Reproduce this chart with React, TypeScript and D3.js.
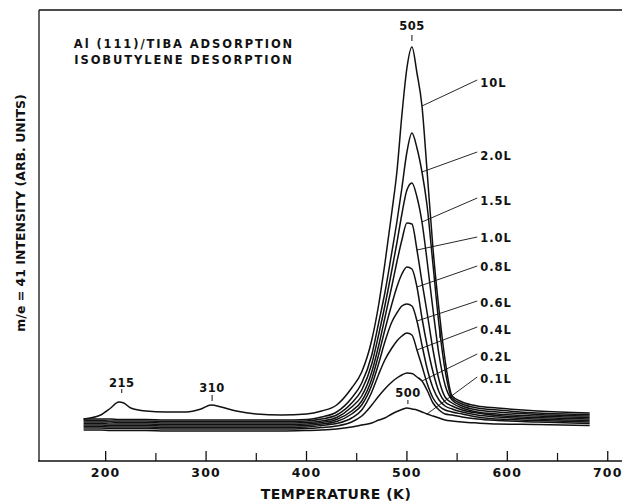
import React from 'react';
import * as d3 from 'd3';

// ---- data ----
const temperatures = [178, 195, 205, 213, 218, 225, 240, 260, 280, 295, 305, 315, 330, 350, 375, 400, 415, 430, 445, 455, 465, 472, 478, 485, 490, 495, 500, 505, 510, 515, 520, 526, 532, 538, 545, 555, 570, 590, 630, 682];

const exposures = ['10L', '2.0L', '1.5L', '1.0L', '0.8L', '0.6L', '0.4L', '0.2L', '0.1L'];

const int10L = [42, 46, 53, 59, 58, 53, 50, 49, 49, 52, 56, 54, 50, 47, 46, 47, 50, 56, 73, 89, 121, 157, 197, 249, 289, 346, 393, 414, 388, 355, 291, 212, 151, 101, 65, 59, 55, 53, 50, 48];
const int2_0L = [42, 42, 42, 41.5, 41.5, 41.5, 41.5, 41, 41, 41, 41, 41, 41, 41, 41, 41.5, 44, 49, 63, 78, 106, 139, 168, 209, 239, 273, 309, 328, 313, 289, 256, 196, 136, 91, 63, 57, 53, 51, 48, 46.5];
const int1_5L = [40.5, 40.5, 40, 40, 40, 40, 40, 39.5, 39.5, 39.5, 39.5, 39.5, 39.5, 39.5, 39.5, 40, 42, 46, 58, 71, 97, 127, 155, 191, 218, 247, 271, 278, 264, 239, 201, 151, 106, 76, 61, 55, 51, 49, 46.5, 45];
const int1_0L = [39, 39, 39, 38.5, 38.5, 38.5, 38.5, 38, 38, 38, 38, 38, 38, 38, 38, 38.5, 40, 43.5, 54, 65, 89, 116, 143, 175, 199, 221, 238, 237, 211, 179, 149, 111, 81, 64, 58, 53, 49, 47, 45, 43.5];
const int0_8L = [37.5, 37.5, 37, 37, 37, 37, 37, 36.5, 36.5, 36.5, 36.5, 36.5, 36.5, 36.5, 36.5, 37, 38.5, 41.5, 50, 60, 82, 107, 131, 157, 174, 187, 194, 192, 174, 143, 116, 89, 69, 59, 55, 51, 48, 45.5, 43.5, 42];
const int0_6L = [36, 36, 35.5, 35.5, 35.5, 35.5, 35.5, 35, 35, 35, 35, 35, 35, 35, 35, 35.5, 37, 39.5, 47, 56, 76, 98, 119, 139, 148, 155, 157, 155, 140, 116, 93, 73, 61, 55, 52, 49, 46, 44, 42, 40.5];
const int0_4L = [34.5, 34.5, 34, 34, 34, 34, 34, 33.5, 33.5, 33.5, 33.5, 33.5, 33.5, 33.5, 33.5, 34, 35.5, 37.5, 43, 51, 69, 87, 101, 113, 120, 125, 128, 126, 111, 95, 78, 63, 55, 51, 49, 47, 44, 42, 40.5, 39];
const int0_2L = [33, 33, 32.5, 32.5, 32.5, 32.5, 32.5, 32, 32, 32, 32, 32, 32, 32, 32, 32.5, 33.5, 35, 39, 45, 56, 65, 72, 79, 83, 86, 88, 87.5, 84, 80, 71, 58, 51, 47, 46, 44, 42, 40.5, 39, 37.5];
const int0_1L = [31, 31, 30.5, 30.5, 30.5, 30.5, 30.5, 30, 30, 30, 30, 30, 30, 30, 30, 30.5, 31, 32, 34, 36, 38, 41, 43, 47, 49.5, 51.5, 53, 52, 51, 49, 47, 45, 43, 41, 40, 39, 38, 37, 36.5, 35.5];

const seriesValues = [int10L, int2_0L, int1_5L, int1_0L, int0_8L, int0_6L, int0_4L, int0_2L, int0_1L];

const majorTicks = [200, 300, 400, 500, 600, 700];
const minorTicks = [250, 350, 450, 550, 650];

const peakTemps = ['215', '310', '505', '500'];

// ---- layout (annotation placement) ----
const leaderAnchorT = [515, 515, 515, 510, 510, 510, 510, 515, 520];
const leaderEndI = [381, 309, 263, 224, 195, 160, 134, 107, 84];
const labelBaseI = [374, 301, 256, 219, 190, 154, 127, 100, 78];
const LEADER_END_T = 570;
const LABEL_T = 573;
const peakLabelT = [216, 306, 505, 501];
const peakLabelI = [74, 69, 431, 64];
const peakTickI = [[72, 68], [66, 60], [426, 420], [61, 57]];

const W = 622;
const H = 502;
const FONT = '"DejaVu Sans", Arial, sans-serif';

export default function App() {
  const x = d3.scaleLinear().domain([133.6, 714.2]).range([39, 622]);
  const y = d3.scaleLinear().domain([0, 451]).range([461, 10]);

  const line = d3
    .line<number>()
    .x((_, i) => x(temperatures[i]))
    .y((d) => y(d))
    .curve(d3.curveMonotoneX);

  const axisY = y(0);

  return (
    <svg
      width={W}
      height={H}
      viewBox={`0 0 ${W} ${H}`}
      style={{ position: 'absolute', left: 0, top: 0, background: '#fff' }}
    >
      <rect x={0} y={0} width={W} height={H} fill="#fff" />
      {/* frame */}
      <line x1={x.range()[0]} x2={W} y1={y(451)} y2={y(451)} stroke="#111" strokeWidth={1.5} />
      <line x1={x.range()[0]} x2={x.range()[0]} y1={y(451)} y2={axisY} stroke="#111" strokeWidth={1.3} />
      <line x1={x.range()[0] - 1} x2={W} y1={axisY} y2={axisY} stroke="#111" strokeWidth={1.6} />

      {majorTicks.map((t) => (
        <g key={'M' + t}>
          <line x1={x(t)} x2={x(t)} y1={axisY} y2={axisY - 10} stroke="#111" strokeWidth={1.3} />
          <text
            x={x(t)}
            y={axisY + 16}
            textAnchor="middle"
            fontFamily={FONT}
            fontWeight="bold"
            fontSize={12.5}
            letterSpacing={1.2}
            fill="#111"
          >
            {t}
          </text>
        </g>
      ))}
      {minorTicks.map((t) => (
        <line key={'m' + t} x1={x(t)} x2={x(t)} y1={axisY} y2={axisY - 8} stroke="#111" strokeWidth={1.2} />
      ))}

      <text
        x={336}
        y={499}
        textAnchor="middle"
        fontFamily={FONT}
        fontWeight="bold"
        fontSize={14}
        letterSpacing={0.5}
        fill="#111"
      >
        TEMPERATURE (K)
      </text>

      <text
        transform="translate(25,213) rotate(-90)"
        textAnchor="middle"
        fontFamily={FONT}
        fontWeight="bold"
        fontSize={12.5}
        fill="#111"
      >
        m/e = 41 INTENSITY (ARB. UNITS)
      </text>

      <g fontFamily={FONT} fontWeight="bold" fontSize={11.5} letterSpacing={1.9} fill="#111" textAnchor="middle">
        <text x={184} y={48}>Al (111)/TIBA ADSORPTION</text>
        <text x={184} y={64}>ISOBUTYLENE DESORPTION</text>
      </g>

      {/* curves */}
      {seriesValues.map((vals, k) => (
        <path key={exposures[k]} d={line(vals) || ''} fill="none" stroke="#111" strokeWidth={1.5} />
      ))}

      {/* leaders and exposure labels */}
      {exposures.map((lab, k) => {
        const idx = temperatures.indexOf(leaderAnchorT[k]);
        return (
          <g key={'lab' + lab}>
            <line
              x1={x(leaderAnchorT[k])}
              y1={y(seriesValues[k][idx])}
              x2={x(LEADER_END_T)}
              y2={y(leaderEndI[k])}
              stroke="#111"
              strokeWidth={0.9}
            />
            <text
              x={x(LABEL_T)}
              y={y(labelBaseI[k])}
              fontFamily={FONT}
              fontWeight="bold"
              fontSize={11.5}
              letterSpacing={1}
              fill="#111"
            >
              {lab}
            </text>
          </g>
        );
      })}

      {/* stray pointer mark */}
      <line x1={x(533)} x2={x(533)} y1={y(134)} y2={y(123)} stroke="#111" strokeWidth={1.2} />

      {/* peak temperature labels */}
      {peakTemps.map((p, k) => (
        <g key={'pk' + p}>
          <text
            x={x(peakLabelT[k])}
            y={y(peakLabelI[k])}
            textAnchor="middle"
            fontFamily={FONT}
            fontWeight="bold"
            fontSize={11.5}
            letterSpacing={0.5}
            fill="#111"
          >
            {p}
          </text>
          <line
            x1={x(peakLabelT[k])}
            x2={x(peakLabelT[k])}
            y1={y(peakTickI[k][0])}
            y2={y(peakTickI[k][1])}
            stroke="#111"
            strokeWidth={1}
          />
        </g>
      ))}
    </svg>
  );
}
